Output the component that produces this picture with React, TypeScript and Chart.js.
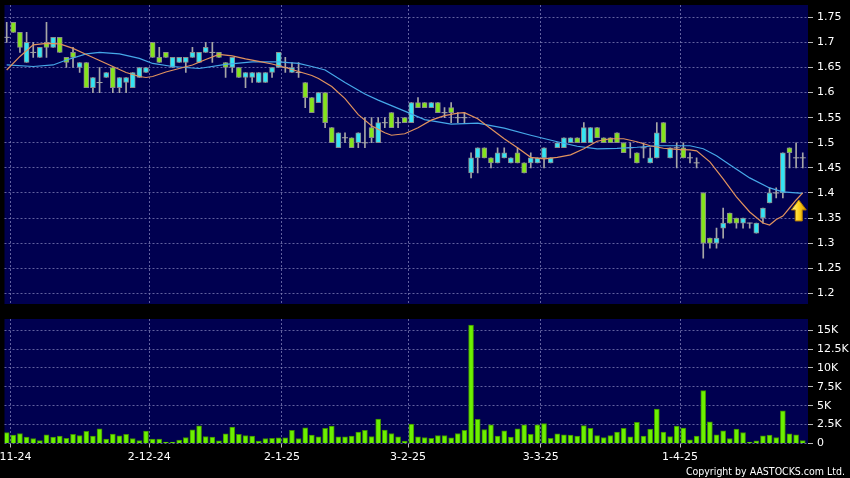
import React, { useEffect, useRef } from "react";
import { Chart, registerables } from "chart.js";
Chart.register(...registerables);

// ---------- data ----------
const opens = [
  1.71, 1.74, 1.72, 1.66, 1.68, 1.67, 1.70, 1.69, 1.71, 1.67,
  1.68, 1.65, 1.66, 1.61, 1.62, 1.63, 1.65, 1.61, 1.62, 1.61,
  1.63, 1.64, 1.70, 1.67, 1.68, 1.65, 1.66, 1.66, 1.67, 1.66,
  1.68, 1.68, 1.68, 1.66, 1.65, 1.65, 1.63, 1.63, 1.62, 1.62,
  1.64, 1.65, 1.65, 1.64, 1.64, 1.62, 1.59, 1.58, 1.60, 1.53,
  1.49, 1.51, 1.51, 1.50, 1.50, 1.53, 1.50, 1.54, 1.56, 1.54,
  1.55, 1.54, 1.58, 1.58, 1.57, 1.58, 1.56, 1.57, 1.55, 1.55,
  1.44, 1.47, 1.49, 1.47, 1.46, 1.47, 1.46, 1.48, 1.46, 1.46,
  1.46, 1.47, 1.46, 1.49, 1.49, 1.50, 1.51, 1.50, 1.50, 1.53,
  1.51, 1.51, 1.52, 1.50, 1.49, 1.48, 1.49, 1.46, 1.47, 1.54,
  1.47, 1.49, 1.49, 1.47, 1.46, 1.40, 1.31, 1.30, 1.33, 1.36,
  1.35, 1.34, 1.34, 1.32, 1.35, 1.38, 1.40, 1.40, 1.49, 1.47,
  1.47,
];
const highs = [
  1.74, 1.74, 1.72, 1.72, 1.70, 1.69, 1.74, 1.71, 1.71, 1.67,
  1.69, 1.66, 1.66, 1.63, 1.65, 1.64, 1.65, 1.63, 1.63, 1.64,
  1.65, 1.65, 1.70, 1.69, 1.68, 1.67, 1.67, 1.67, 1.69, 1.68,
  1.70, 1.70, 1.68, 1.66, 1.67, 1.65, 1.64, 1.64, 1.64, 1.64,
  1.65, 1.68, 1.67, 1.66, 1.66, 1.62, 1.59, 1.60, 1.60, 1.53,
  1.52, 1.52, 1.51, 1.52, 1.55, 1.55, 1.55, 1.55, 1.56, 1.55,
  1.55, 1.58, 1.59, 1.58, 1.58, 1.58, 1.57, 1.58, 1.56, 1.56,
  1.48, 1.49, 1.49, 1.47, 1.49, 1.49, 1.47, 1.49, 1.46, 1.48,
  1.47, 1.49, 1.47, 1.50, 1.51, 1.51, 1.51, 1.54, 1.53, 1.53,
  1.51, 1.51, 1.52, 1.50, 1.50, 1.48, 1.50, 1.49, 1.54, 1.54,
  1.49, 1.50, 1.50, 1.48, 1.47, 1.40, 1.31, 1.33, 1.37, 1.36,
  1.35, 1.35, 1.34, 1.34, 1.37, 1.41, 1.41, 1.48, 1.49, 1.50,
  1.48,
];
const lows = [
  1.70, 1.72, 1.68, 1.66, 1.67, 1.67, 1.67, 1.69, 1.68, 1.65,
  1.65, 1.64, 1.61, 1.60, 1.60, 1.63, 1.60, 1.60, 1.60, 1.61,
  1.63, 1.64, 1.67, 1.66, 1.67, 1.65, 1.66, 1.64, 1.67, 1.66,
  1.68, 1.66, 1.67, 1.63, 1.64, 1.63, 1.61, 1.62, 1.62, 1.62,
  1.63, 1.65, 1.64, 1.64, 1.63, 1.57, 1.56, 1.58, 1.53, 1.50,
  1.49, 1.50, 1.49, 1.49, 1.49, 1.50, 1.50, 1.53, 1.53, 1.53,
  1.54, 1.54, 1.57, 1.57, 1.57, 1.56, 1.55, 1.54, 1.54, 1.54,
  1.43, 1.44, 1.47, 1.45, 1.46, 1.47, 1.46, 1.46, 1.44, 1.45,
  1.46, 1.45, 1.46, 1.49, 1.49, 1.50, 1.50, 1.50, 1.50, 1.51,
  1.50, 1.50, 1.50, 1.48, 1.47, 1.46, 1.47, 1.46, 1.47, 1.50,
  1.47, 1.45, 1.47, 1.46, 1.45, 1.27, 1.29, 1.29, 1.31, 1.34,
  1.33, 1.33, 1.33, 1.32, 1.34, 1.38, 1.39, 1.39, 1.45, 1.45,
  1.45,
];
const closes = [
  1.71, 1.72, 1.69, 1.70, 1.68, 1.69, 1.69, 1.71, 1.68, 1.66,
  1.67, 1.66, 1.61, 1.63, 1.62, 1.64, 1.61, 1.63, 1.63, 1.64,
  1.65, 1.65, 1.67, 1.66, 1.67, 1.67, 1.67, 1.67, 1.68, 1.68,
  1.69, 1.68, 1.67, 1.65, 1.67, 1.63, 1.64, 1.64, 1.64, 1.64,
  1.65, 1.68, 1.65, 1.65, 1.64, 1.59, 1.56, 1.60, 1.54, 1.50,
  1.52, 1.51, 1.49, 1.52, 1.50, 1.51, 1.54, 1.54, 1.53, 1.54,
  1.54, 1.58, 1.57, 1.57, 1.58, 1.56, 1.56, 1.56, 1.55, 1.55,
  1.47, 1.49, 1.47, 1.46, 1.48, 1.48, 1.47, 1.46, 1.44, 1.47,
  1.47, 1.49, 1.47, 1.50, 1.51, 1.51, 1.50, 1.53, 1.53, 1.51,
  1.50, 1.50, 1.50, 1.48, 1.49, 1.46, 1.49, 1.47, 1.52, 1.50,
  1.49, 1.49, 1.47, 1.47, 1.46, 1.30, 1.30, 1.31, 1.34, 1.34,
  1.34, 1.35, 1.34, 1.34, 1.37, 1.40, 1.40, 1.48, 1.48, 1.47,
  1.47,
];
const volumes = [
  1460, 1100, 1330, 840, 660, 400, 1150, 840, 970, 700,
  1200, 1060, 1600, 970, 1950, 580, 1240, 1020, 1200, 660,
  400, 1640, 580, 580, 180, 180, 440, 800, 1800, 2350,
  930, 840, 350, 1280, 2170, 1200, 1060, 970, 310, 660,
  700, 750, 750, 1730, 660, 2080, 1100, 880, 2000, 2300,
  880, 880, 970, 1500, 1730, 930, 3230, 1770, 1330, 880,
  310, 2570, 880, 800, 700, 1060, 1060, 750, 1330, 1730,
  15700, 3190, 1860, 2480, 970, 1680, 840, 1950, 2480, 1200,
  2480, 2650, 700, 1280, 1150, 1100, 970, 2390, 2000, 1060,
  800, 1060, 1500, 2000, 880, 2790, 970, 1900, 4560, 1500,
  930, 2300, 2040, 490, 970, 7000, 2880, 1150, 1680, 660,
  1900, 1460, 180, 350, 1020, 1100, 800, 4340, 1280, 1150,
  400,
];

// short moving average (orange) at these candle indices
const maShortIdx = [0, 2, 4, 6, 8, 10, 12, 14, 16, 18, 20, 21, 22, 24, 26, 28, 30, 32, 34, 36, 38, 40, 42, 44, 46, 47, 49, 51, 53, 55, 57, 58, 60, 62, 64, 66, 68, 69, 71, 73, 75, 77, 79, 81, 83, 85, 87, 89, 91, 93, 95, 97, 99, 101, 103, 104, 106, 108, 110, 112, 114, 115, 116, 117, 118, 119, 120];
const maShortVal = [1.645, 1.672, 1.695, 1.698, 1.697, 1.688, 1.676, 1.664, 1.652, 1.640, 1.632, 1.630, 1.632, 1.641, 1.648, 1.655, 1.666, 1.676, 1.673, 1.667, 1.662, 1.657, 1.650, 1.642, 1.634, 1.628, 1.612, 1.588, 1.556, 1.534, 1.520, 1.515, 1.518, 1.530, 1.545, 1.554, 1.559, 1.560, 1.548, 1.528, 1.508, 1.490, 1.471, 1.468, 1.471, 1.476, 1.488, 1.503, 1.508, 1.508, 1.502, 1.494, 1.489, 1.487, 1.486, 1.484, 1.462, 1.428, 1.392, 1.362, 1.340, 1.336, 1.347, 1.354, 1.370, 1.386, 1.400];
// long moving average (blue)
const maLongIdx = [0, 4, 7, 9, 12, 14, 17, 20, 22, 25, 29, 33, 37, 41, 44, 46, 48, 51, 54, 56, 60, 63, 67, 71, 75, 79, 83, 86, 89, 92, 95, 98, 103, 105, 107, 109, 112, 115, 117, 120];
const maLongVal = [1.655, 1.652, 1.655, 1.665, 1.677, 1.680, 1.677, 1.668, 1.658, 1.652, 1.648, 1.656, 1.661, 1.661, 1.658, 1.652, 1.645, 1.620, 1.597, 1.585, 1.563, 1.546, 1.537, 1.539, 1.529, 1.515, 1.502, 1.493, 1.488, 1.489, 1.491, 1.494, 1.494, 1.488, 1.474, 1.456, 1.430, 1.410, 1.402, 1.399];

const dateLabels = ["1-11-24", "2-12-24", "2-1-25", "3-2-25", "3-3-25", "1-4-25"];
const dateLabelIdx = [1, 22, 42, 61, 81, 102];
const priceTicks = [1.2, 1.25, 1.3, 1.35, 1.4, 1.45, 1.5, 1.55, 1.6, 1.65, 1.7, 1.75];
const priceTickLabels = ["1.2", "1.25", "1.3", "1.35", "1.4", "1.45", "1.5", "1.55", "1.6", "1.65", "1.7", "1.75"];
const volumeTicks = [0, 2500, 5000, 7500, 10000, 12500, 15000];
const volumeTickLabels = ["0", "2.5K", "5K", "7.5K", "10K", "12.5K", "15K"];

// ---------- style ----------
const PANEL = "#000050";
const GRID = "rgba(130,130,185,0.75)";
const TICKC = "#b8b8b8";
const CYAN = "#34E4F4";
const GREEN = "#84E41C";
const BODY_BORDER = "#8c8c8c";
const WICK = "#a6a6a6";
const ORANGE = "#E0925E";
const BLUE = "#46A8E8";
const VOL_FILL = "#6CF000";
const VOL_BORDER = "#3E8E00";
const FONT = { family: "'DejaVu Sans', Verdana, sans-serif", size: 11 };

const X_MIN = -0.33;
const X_MAX = 120.79;
const P_MIN = 1.1787;
const P_MAX = 1.7745;
const V_MAX = 16490;

const panelBg = {
  id: "panelBg",
  beforeDraw(chart: any) {
    const { ctx, chartArea } = chart;
    ctx.save();
    ctx.fillStyle = PANEL;
    ctx.fillRect(chartArea.left, chartArea.top, chartArea.right - chartArea.left, chartArea.bottom - chartArea.top);
    ctx.restore();
  },
};

const arrowPlugin = {
  id: "arrowMark",
  afterDatasetsDraw(chart: any) {
    const xs = chart.scales.x;
    const ys = chart.scales.y;
    const last = closes.length - 1;
    const cx = xs.getPixelForValue(last - 0.6);
    const tip = ys.getPixelForValue(maShortVal[maShortVal.length - 1]) + 7;
    const ctx = chart.ctx;
    ctx.save();
    const g = ctx.createLinearGradient(cx - 7, 0, cx + 7, 0);
    g.addColorStop(0, "#FFF58A");
    g.addColorStop(0.5, "#FFD21E");
    g.addColorStop(1, "#D99A00");
    ctx.beginPath();
    ctx.moveTo(cx, tip);
    ctx.lineTo(cx + 7.5, tip + 10);
    ctx.lineTo(cx + 3.5, tip + 10);
    ctx.lineTo(cx + 3.5, tip + 21);
    ctx.lineTo(cx - 3.5, tip + 21);
    ctx.lineTo(cx - 3.5, tip + 10);
    ctx.lineTo(cx - 7.5, tip + 10);
    ctx.closePath();
    ctx.fillStyle = g;
    ctx.fill();
    ctx.strokeStyle = "#B07800";
    ctx.lineWidth = 1;
    ctx.stroke();
    ctx.restore();
  },
};

function xScale(showLabels: boolean) {
  return {
    type: "linear",
    min: X_MIN,
    max: X_MAX,
    bounds: "data",
    offset: false,
    afterBuildTicks: (s: any) => {
      s.ticks = dateLabelIdx.map((i) => ({ value: i - 0.5 }));
    },
    grid: {
      color: GRID,
      lineWidth: 1,
      offset: false,
      drawTicks: showLabels,
      tickLength: 4,
      tickColor: TICKC,
      tickBorderDash: [],
    },
    border: { display: false, dash: [2, 2] },
    ticks: {
      display: showLabels,
      autoSkip: false,
      maxRotation: 0,
      minRotation: 0,
      padding: 3,
      color: "#ffffff",
      font: FONT,
      callback: (_v: any, i: number) => dateLabels[i],
    },
  };
}

function yScale(min: number, max: number, ticks: number[], labels: string[]) {
  return {
    type: "linear",
    position: "right",
    min,
    max,
    bounds: "data",
    afterBuildTicks: (s: any) => {
      s.ticks = ticks.map((v) => ({ value: v }));
    },
    afterFit: (s: any) => {
      s.width = 42;
    },
    grid: {
      color: GRID,
      lineWidth: 1,
      drawTicks: true,
      tickLength: 5,
      tickColor: TICKC,
      tickBorderDash: [],
    },
    border: { display: false, dash: [2, 2] },
    ticks: {
      color: "#ffffff",
      font: FONT,
      padding: 4,
      callback: (_v: any, i: number) => labels[i],
    },
  };
}

export default function App() {
  const topRef = useRef<HTMLCanvasElement>(null);
  const botRef = useRef<HTMLCanvasElement>(null);

  useEffect(() => {
    const idx = closes.map((_, i) => i);
    const solid = idx.filter((i) => opens[i] !== closes[i]);
    const doji = idx.filter((i) => opens[i] === closes[i]);

    const top = new Chart(topRef.current as HTMLCanvasElement, {
      type: "bar",
      data: {
        datasets: [
          {
            type: "line",
            label: "MA short",
            data: maShortIdx.map((x, k) => ({ x, y: maShortVal[k] })),
            borderColor: ORANGE,
            borderWidth: 1.2,
            pointRadius: 0,
            tension: 0,
            order: 0,
          } as any,
          {
            type: "line",
            label: "MA long",
            data: maLongIdx.map((x, k) => ({ x, y: maLongVal[k] })),
            borderColor: BLUE,
            borderWidth: 1.2,
            pointRadius: 0,
            tension: 0,
            order: 0,
          } as any,
          {
            type: "bar",
            label: "body",
            data: solid.map((i) => ({ x: i, y: [opens[i], closes[i]] })),
            backgroundColor: solid.map((i) => (closes[i] > opens[i] ? CYAN : GREEN)),
            borderColor: BODY_BORDER,
            borderWidth: 1,
            borderSkipped: false,
            barThickness: 5,
            grouped: false,
            order: 1,
          } as any,
          {
            type: "line",
            label: "doji",
            data: doji.map((i) => ({ x: i, y: closes[i] })),
            showLine: false,
            pointStyle: "line",
            pointRadius: 3,
            pointBorderColor: WICK,
            pointBorderWidth: 1,
            order: 2,
          } as any,
          {
            type: "bar",
            label: "wick",
            data: idx.map((i) => ({ x: i, y: [lows[i], highs[i]] })),
            backgroundColor: WICK,
            borderWidth: 0,
            barThickness: 1,
            grouped: false,
            order: 3,
          } as any,
        ],
      },
      options: {
        responsive: false,
        devicePixelRatio: 1,
        animation: false,
        events: [],
        layout: { padding: { left: 54.5, right: 0, top: 15, bottom: 16 } },
        plugins: { legend: { display: false }, tooltip: { enabled: false } },
        scales: {
          x: xScale(false) as any,
          y: yScale(P_MIN, P_MAX, priceTicks, priceTickLabels) as any,
        },
      },
      plugins: [panelBg, arrowPlugin],
    } as any);

    const bot = new Chart(botRef.current as HTMLCanvasElement, {
      type: "bar",
      data: {
        datasets: [
          {
            label: "volume",
            data: idx.map((i) => ({ x: i, y: volumes[i] })),
            backgroundColor: VOL_FILL,
            borderColor: VOL_BORDER,
            borderWidth: 1,
            borderSkipped: "start",
            barThickness: 5,
            grouped: false,
          } as any,
        ],
      },
      options: {
        responsive: false,
        devicePixelRatio: 1,
        animation: false,
        events: [],
        layout: { padding: { left: 54.5, right: 0, top: 19, bottom: 11.3 } },
        plugins: { legend: { display: false }, tooltip: { enabled: false } },
        scales: {
          x: xScale(true) as any,
          y: yScale(0, V_MAX, volumeTicks, volumeTickLabels) as any,
        },
      },
      plugins: [panelBg],
    } as any);

    return () => {
      top.destroy();
      bot.destroy();
    };
  }, []);

  return (
    <div
      style={{
        position: "fixed",
        left: 0,
        top: 0,
        width: 850,
        height: 478,
        background: "#000",
        overflow: "hidden",
      }}
    >
      <canvas
        ref={topRef}
        width={900}
        height={330}
        style={{ position: "absolute", left: -50, top: -10, width: 900, height: 330 }}
      />
      <canvas
        ref={botRef}
        width={900}
        height={178}
        style={{ position: "absolute", left: -50, top: 300, width: 900, height: 178 }}
      />
      <div
        style={{
          position: "absolute",
          right: 5,
          top: 465,
          color: "#fff",
          fontFamily: "'DejaVu Sans Condensed', 'DejaVu Sans', sans-serif",
          fontStretch: "condensed",
          fontSize: 10.5,
          lineHeight: "12px",
          whiteSpace: "nowrap",
        }}
      >
        Copyright by AASTOCKS.com Ltd.
      </div>
    </div>
  );
}
